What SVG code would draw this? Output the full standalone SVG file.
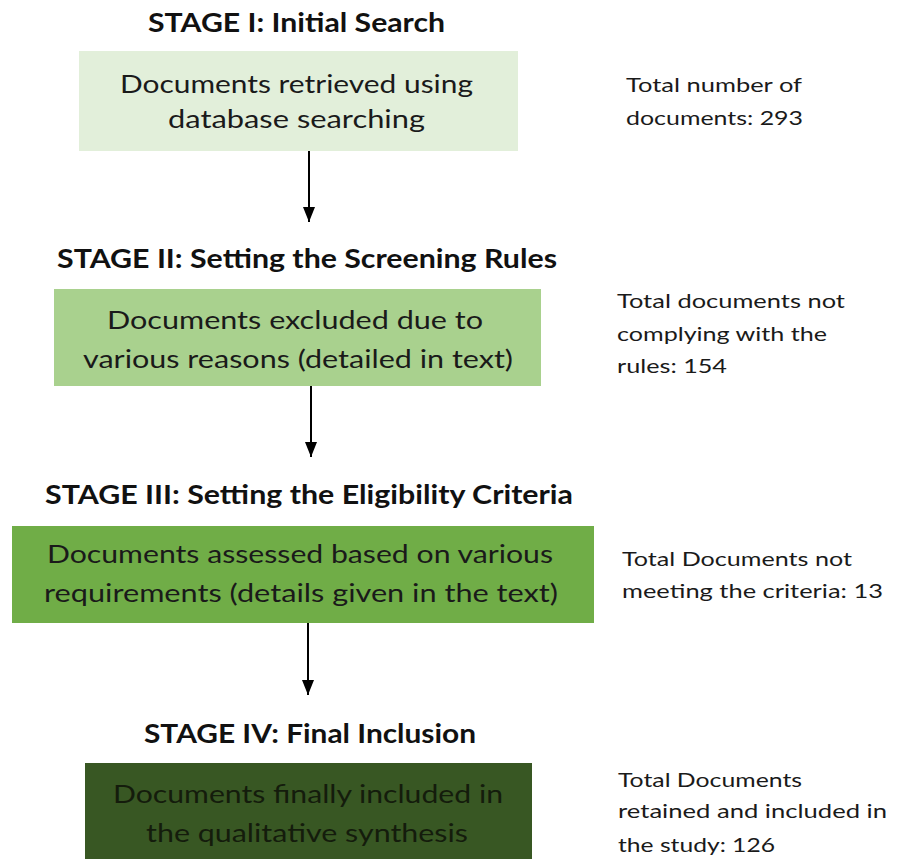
<svg xmlns="http://www.w3.org/2000/svg" width="900" height="859" viewBox="0 0 900 859">
<defs>
<style>
.title{font-family:Lato,"Liberation Sans",sans-serif;font-weight:bold;font-size:27px;fill:#111}
.box{font-family:Lato,"Liberation Sans",sans-serif;font-size:25px;fill:#1a1a1a}
.dark{fill:#141c0c}
.note{font-family:Lato,"Liberation Sans",sans-serif;font-size:19px;fill:#1a1a1a}
.conn{stroke:#000;stroke-width:2;fill:none;marker-end:url(#arr)}
</style>
<marker id="arr" viewBox="0 0 15 12" refX="15" refY="6" markerWidth="15" markerHeight="12" markerUnits="userSpaceOnUse" orient="auto">
<path d="M0,0 L15,6 L0,12 Z" fill="#000"/>
</marker>
</defs>
<rect width="900" height="859" fill="#fff"/>

<g id="stage1">
<text class="title" x="148" y="32" textLength="297" lengthAdjust="spacingAndGlyphs">STAGE I: Initial Search</text>
<rect x="79" y="51" width="439" height="100" fill="#E2EFDA"/>
<text class="box" x="120" y="93" textLength="353" lengthAdjust="spacingAndGlyphs">Documents retrieved using</text>
<text class="box" x="168" y="128" textLength="257" lengthAdjust="spacingAndGlyphs">database searching</text>
<text class="note" x="626" y="92" textLength="176" lengthAdjust="spacingAndGlyphs">Total number of</text>
<text class="note" x="626" y="125" textLength="177" lengthAdjust="spacingAndGlyphs">documents: 293</text>
</g>

<g id="stage2">
<text class="title" x="57" y="268" textLength="500" lengthAdjust="spacingAndGlyphs">STAGE II: Setting the Screening Rules</text>
<rect x="54" y="289" width="487" height="97" fill="#A9D18E"/>
<text class="box" x="107" y="329" textLength="376" lengthAdjust="spacingAndGlyphs">Documents excluded due to</text>
<text class="box" x="83" y="368" textLength="430" lengthAdjust="spacingAndGlyphs">various reasons (detailed in text)</text>
<text class="note" x="617" y="308" textLength="228" lengthAdjust="spacingAndGlyphs">Total documents not</text>
<text class="note" x="617" y="341" textLength="210" lengthAdjust="spacingAndGlyphs">complying with the</text>
<text class="note" x="617" y="373" textLength="110" lengthAdjust="spacingAndGlyphs">rules: 154</text>
</g>

<g id="stage3">
<text class="title" x="45" y="504" textLength="528" lengthAdjust="spacingAndGlyphs">STAGE III: Setting the Eligibility Criteria</text>
<rect x="12" y="526" width="582" height="97" fill="#70AD47"/>
<text class="box" x="47" y="563" textLength="506" lengthAdjust="spacingAndGlyphs">Documents  assessed based on various</text>
<text class="box" x="44" y="602" textLength="514" lengthAdjust="spacingAndGlyphs">requirements  (details given in the  text)</text>
<text class="note" x="622" y="566" textLength="230" lengthAdjust="spacingAndGlyphs">Total Documents not</text>
<text class="note" x="622" y="598" textLength="261" lengthAdjust="spacingAndGlyphs">meeting the criteria: 13</text>
</g>

<g id="stage4">
<text class="title" x="144" y="743" textLength="332" lengthAdjust="spacingAndGlyphs">STAGE IV: Final Inclusion</text>
<rect x="85" y="763" width="447" height="96" fill="#385723"/>
<text class="box dark" x="113" y="803" textLength="390" lengthAdjust="spacingAndGlyphs">Documents  finally included in</text>
<text class="box dark" x="146" y="842" textLength="322" lengthAdjust="spacingAndGlyphs">the qualitative synthesis</text>
<text class="note" x="618" y="787" textLength="184" lengthAdjust="spacingAndGlyphs">Total Documents</text>
<text class="note" x="618" y="818" textLength="269" lengthAdjust="spacingAndGlyphs">retained and included in</text>
<text class="note" x="618" y="852" textLength="157" lengthAdjust="spacingAndGlyphs">the study: 126</text>
</g>

<g id="connectors">
<line class="conn" x1="309" y1="151" x2="309" y2="222"/>
<line class="conn" x1="311" y1="386" x2="311" y2="457"/>
<line class="conn" x1="308" y1="623" x2="308" y2="695"/>
</g>
</svg>
